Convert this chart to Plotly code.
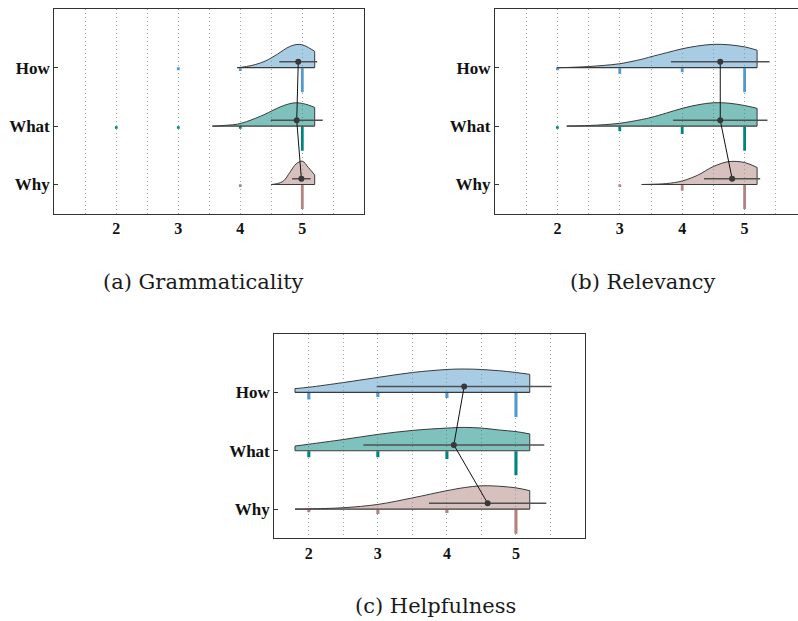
import plotly.graph_objects as go

# ---------------- data ----------------
CATEGORIES = ["How", "What", "Why"]
RATINGS = [2, 3, 4, 5]
X_TICK_LABELS = ["2", "3", "4", "5"]
PANEL_TITLES = ["(a) Grammaticality", "(b) Relevancy", "(c) Helpfulness"]

# rain: relative number of responses at ratings 2,3,4,5
GRAM_RAIN_HOW = [0, 1, 4, 100]
GRAM_RAIN_WHAT = [1, 1, 1, 100]
GRAM_RAIN_WHY = [0, 0, 1, 100]
REL_RAIN_HOW = [1, 18, 10, 100]
REL_RAIN_WHAT = [1, 13, 25, 100]
REL_RAIN_WHY = [0, 1, 18, 100]
HELP_RAIN_HOW = [22, 10, 15, 100]
HELP_RAIN_WHAT = [19, 19, 27, 100]
HELP_RAIN_WHY = [4, 11, 7, 100]

# mean and standard deviation per question type (How, What, Why)
GRAM_MEAN = [4.935, 4.91, 4.985]
GRAM_SD = [0.305, 0.42, 0.15]
REL_MEAN = [4.61, 4.61, 4.80]
REL_SD = [0.79, 0.756, 0.45]
HELP_MEAN = [4.25, 4.10, 4.59]
HELP_SD = [1.267, 1.31, 0.85]

# cloud: density relative to its peak, sampled on a rating grid
GRAM_GRID = [3.55, 3.8, 3.95, 4.1, 4.25, 4.4, 4.5, 4.6, 4.7, 4.8, 4.9, 5.0, 5.1, 5.2]
GRAM_CLOUD_HOW = [None, None, 0.0, 0.05, 0.14, 0.28, 0.42, 0.58, 0.76, 0.91, 0.99, 0.98, 0.86, 0.70]
GRAM_CLOUD_WHAT = [0.0, 0.04, 0.08, 0.19, 0.34, 0.51, 0.64, 0.77, 0.88, 0.96, 1.0, 0.97, 0.90, 0.80]
GRAM_CLOUD_WHY = [None, None, None, None, None, None, 0.0, 0.04, 0.16, 0.52, 0.88, 1.0, 0.72, 0.41]

REL_GRID = [2.0, 2.15, 2.5, 2.75, 3.0, 3.35, 3.5, 3.75, 4.0, 4.25, 4.5, 4.75, 5.0, 5.2]
REL_CLOUD_HOW = [0.0, 0.01, 0.05, 0.10, 0.17, 0.36, 0.47, 0.64, 0.81, 0.93, 1.0, 0.98, 0.89, 0.75]
REL_CLOUD_WHAT = [None, 0.0, 0.025, 0.06, 0.12, 0.28, 0.37, 0.56, 0.76, 0.91, 1.0, 0.98, 0.88, 0.76]
REL_CLOUD_WHY = [None, None, None, None, None, 0.0, 0.01, 0.04, 0.15, 0.40, 0.77, 0.98, 0.94, 0.73]

HELP_GRID = [1.8, 2.0, 2.5, 3.0, 3.5, 4.0, 4.25, 4.5, 4.75, 5.0, 5.2]
HELP_CLOUD_HOW = [0.16, 0.22, 0.42, 0.64, 0.85, 0.98, 1.0, 0.98, 0.93, 0.85, 0.77]
HELP_CLOUD_WHAT = [0.20, 0.28, 0.48, 0.70, 0.87, 0.97, 1.0, 0.97, 0.89, 0.82, 0.72]
HELP_CLOUD_WHY = [0.0, 0.01, 0.06, 0.20, 0.48, 0.79, 0.92, 1.0, 0.98, 0.91, 0.79]

# ---------------- style ----------------
W, H = 798, 621
RAIN_COLORS = ["#5399cb", "#00857c", "#b0847f"]
FILL_COLORS = ["rgba(83,153,203,0.5)", "rgba(0,133,124,0.5)", "rgba(176,132,127,0.5)"]
EDGE = "#3a3a3a"
CLOUD_HEIGHT = 0.4
MEAN_OFFSET = 0.1
RAIN_MIN = 0.03
RAIN_SPAN = 0.38
TICK_FONT = "Liberation Serif"
CAPTION_FONT = "DejaVu Serif"

# panel geometry in pixels: (left, right, top, bottom), x range, mirror right side
PANELS = [
    dict(px=(54.3, 364.3, 9.3, 213.7), xr=[1.0, 6.0], mirror_y=True,
         grid=GRAM_GRID, clouds=[GRAM_CLOUD_HOW, GRAM_CLOUD_WHAT, GRAM_CLOUD_WHY],
         rains=[GRAM_RAIN_HOW, GRAM_RAIN_WHAT, GRAM_RAIN_WHY], mean=GRAM_MEAN, sd=GRAM_SD,
         cap=(203, 281.5)),
    dict(px=(495.0, 798.0, 9.3, 213.7), xr=[1.0, 1.0 + (798 - 495.0) / 62.4], mirror_y=False,
         grid=REL_GRID, clouds=[REL_CLOUD_HOW, REL_CLOUD_WHAT, REL_CLOUD_WHY],
         rains=[REL_RAIN_HOW, REL_RAIN_WHAT, REL_RAIN_WHY], mean=REL_MEAN, sd=REL_SD,
         cap=(643, 281.5)),
    dict(px=(274.3, 585.0, 334.0, 538.3), xr=[1.5, 6.0], mirror_y=True,
         grid=HELP_GRID, clouds=[HELP_CLOUD_HOW, HELP_CLOUD_WHAT, HELP_CLOUD_WHY],
         rains=[HELP_RAIN_HOW, HELP_RAIN_WHAT, HELP_RAIN_WHY], mean=HELP_MEAN, sd=HELP_SD,
         cap=(435, 606)),
]

fig = go.Figure()
layout = dict(width=W, height=H, margin=dict(l=0, r=0, t=0, b=0), autosize=False,
              paper_bgcolor="white", plot_bgcolor="white", barmode="overlay",
              showlegend=False, annotations=[])

half_ticks = [1.5 + 0.5 * i for i in range(9)]
half_text = []
for v in half_ticks:
    half_text.append(str(int(v)) if float(v).is_integer() and int(v) in RATINGS else "")

for k, p in enumerate(PANELS):
    xa = "x" if k == 0 else f"x{k+1}"
    ya = "y" if k == 0 else f"y{k+1}"
    common = dict(xaxis=xa, yaxis=ya, showlegend=False, hoverinfo="skip")
    positions = [2 - i for i in range(len(CATEGORIES))]

    for i, cat in enumerate(CATEGORIES):
        pos = positions[i]
        pts = [(x, h) for x, h in zip(p["grid"], p["clouds"][i]) if h is not None]
        xs = [a for a, _ in pts]
        hs = [b for _, b in pts]
        ys = [pos + CLOUD_HEIGHT * h for h in hs]
        # baseline of the cloud
        fig.add_trace(go.Scatter(x=[xs[0], xs[-1]], y=[pos, pos], mode="lines",
                                 line=dict(color=EDGE, width=1.2), **common))
        # cloud outline + fill
        fig.add_trace(go.Scatter(x=xs, y=ys, mode="lines",
                                 line=dict(color=EDGE, width=1, shape="spline", smoothing=1.0),
                                 fill="tonexty", fillcolor=FILL_COLORS[i], **common))
        ex, ey = [xs[-1], xs[-1]], [pos, ys[-1]]
        if hs[0] > 0:
            ex += [None, xs[0], xs[0]]
            ey += [None, pos, ys[0]]
        fig.add_trace(go.Scatter(x=ex, y=ey, mode="lines",
                                 line=dict(color=EDGE, width=1), **common))
        # rain
        rain = p["rains"][i]
        cmax = max(rain)
        rx = [r for r, c in zip(RATINGS, rain) if c > 0]
        rl = [-(RAIN_MIN + RAIN_SPAN * c / cmax) for c in rain if c > 0]
        fig.add_trace(go.Bar(x=rx, y=rl, base=[pos - 0.01] * len(rx), width=0.045,
                             marker=dict(color=RAIN_COLORS[i], line=dict(width=0)), **common))

    # means, sd bars and connecting line
    fig.add_trace(go.Scatter(
        x=p["mean"], y=[q + MEAN_OFFSET for q in positions], mode="lines+markers",
        line=dict(color="#111111", width=1),
        marker=dict(size=6, color="#383838"),
        error_x=dict(type="data", array=p["sd"], symmetric=True, color="#505050",
                     thickness=1.5, width=0),
        **common))

    l, r, t, b = p["px"]
    xkey = "xaxis" if k == 0 else f"xaxis{k+1}"
    ykey = "yaxis" if k == 0 else f"yaxis{k+1}"
    layout[xkey] = dict(domain=[l / W, min(1.0, r / W)], range=p["xr"], anchor=ya,
                        tickmode="array", tickvals=half_ticks, ticktext=half_text,
                        ticks="", showgrid=True, gridcolor="#a0a0a0", griddash="1px,3px",
                        gridwidth=1, zeroline=False, showline=True, linecolor="#333333",
                        linewidth=1.3, mirror=True,
                        tickfont=dict(family=TICK_FONT, size=16, color="#111111", weight="bold"))
    layout[ykey] = dict(domain=[1 - b / H, 1 - t / H], range=[-0.5, 3.0], anchor=xa,
                        tickmode="array", tickvals=positions, ticktext=CATEGORIES,
                        ticks="inside", ticklen=4, tickcolor="#333333", showgrid=False,
                        zeroline=False, showline=True, linecolor="#333333", linewidth=1.3,
                        mirror=p["mirror_y"],
                        tickfont=dict(family=TICK_FONT, size=17, color="#111111", weight="bold"))
    cx, cy = p["cap"]
    layout["annotations"].append(dict(
        text=PANEL_TITLES[k], x=cx / W, y=1 - cy / H, xref="paper", yref="paper",
        xanchor="center", yanchor="middle", showarrow=False,
        font=dict(family=CAPTION_FONT, size=21, color="#1a1a1a")))

fig.update_layout(**layout)
fig.write_html("out.html", config={"displayModeBar": False},
               post_script="document.body.style.margin='0';document.body.style.padding='0';"
                           "document.body.style.overflow='hidden';")
